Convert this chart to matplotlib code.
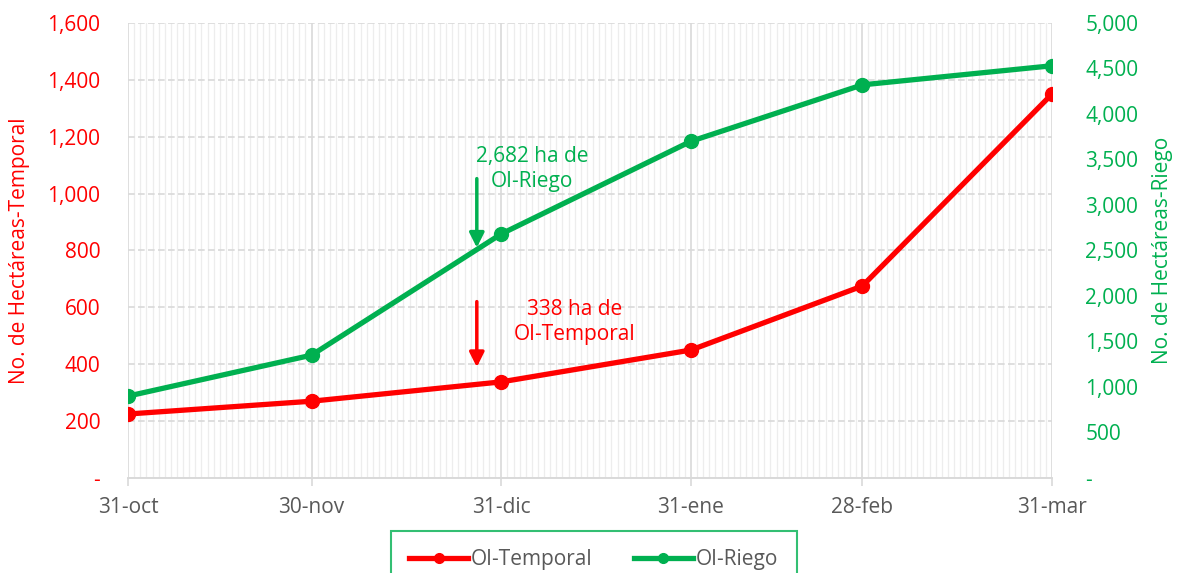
import numpy as np
import pandas as pd
import matplotlib
matplotlib.use('Agg')
import matplotlib.pyplot as plt
import matplotlib.dates as mdates
from matplotlib.ticker import FuncFormatter

# datos
fechas = pd.to_datetime(['2020-10-31', '2020-11-30', '2020-12-31',
                         '2021-01-31', '2021-02-28', '2021-03-31'])
etiquetas = ['31-oct', '30-nov', '31-dic', '31-ene', '28-feb', '31-mar']
temporal = [225, 270, 338, 450, 675, 1350]
riego = [900, 1350, 2682, 3700, 4320, 4530]

ROJO = '#FF0000'
VERDE = '#00B050'
GRIS = '#595959'

plt.rcParams['font.family'] = ['Open Sans', 'DejaVu Sans']


def miles(v, pos):
    if v == 0:
        return '-'
    return f'{v:,.0f}'


fig = plt.figure(figsize=(11.78, 5.73), dpi=100)
ax = fig.add_axes([0.1087, 0.1658, 0.7843, 0.7941])
ax2 = ax.twinx()

ax.plot(fechas, temporal, color=ROJO, lw=3.8, marker='o', ms=10, label='OI-Temporal', zorder=4)
ax2.plot(fechas, riego, color=VERDE, lw=3.8, marker='o', ms=10, label='OI-Riego', zorder=4)

ax.set_xlim(fechas[0], fechas[-1])
ax.set_ylim(0, 1600)
ax2.set_ylim(0, 5000)
ax.set_yticks(np.arange(0, 1601, 200))
ax2.set_yticks(np.arange(0, 5001, 500))
ax.yaxis.set_major_formatter(FuncFormatter(miles))
ax2.yaxis.set_major_formatter(FuncFormatter(miles))

ax.set_xticks(fechas)
ax.set_xticklabels(etiquetas)
ax.xaxis.set_minor_locator(mdates.DayLocator())

# rejilla
ax.grid(which='major', axis='y', color='#D9D9D9', linestyle='--', lw=1.2, dashes=(4, 2))
ax.grid(which='major', axis='x', color='#D9D9D9', lw=1.2)
ax.grid(which='minor', axis='x', color='#EDEDED', lw=0.9)
ax.set_axisbelow(True)

for a in (ax, ax2):
    for s in ('top', 'left', 'right'):
        a.spines[s].set_visible(False)
    a.spines['bottom'].set_color('#D9D9D9')
    a.spines['bottom'].set_linewidth(1.2)

ax.tick_params(axis='x', which='major', length=6, color='#D9D9D9', width=1.2,
               labelsize=15, labelcolor=GRIS, pad=8)
ax.tick_params(axis='x', which='minor', length=0)
ax.tick_params(axis='y', length=0, labelsize=15, labelcolor=ROJO, pad=20)
ax2.tick_params(axis='y', length=0, labelsize=15, labelcolor=VERDE, pad=24)
for t in ax.get_yticklabels():
    t.set_horizontalalignment('right')
for t in ax2.get_yticklabels():
    t.set_horizontalalignment('left')

ax.set_ylabel('No. de Hectáreas-Temporal', color=ROJO, fontsize=15, labelpad=12)
ax2.set_ylabel('No. de Hectáreas-Riego', color=VERDE, fontsize=15, labelpad=10)

# anotaciones
x_flecha = pd.Timestamp('2020-12-27')
ax2.annotate('', xy=(x_flecha, 2500), xytext=(x_flecha, 3320),
             arrowprops=dict(arrowstyle='-|>', color=VERDE, lw=2.5, mutation_scale=22))
ax2.text(pd.Timestamp('2021-01-05'), 3400, '2,682 ha de\nOI-Riego', color=VERDE,
         fontsize=15, ha='center', va='center', linespacing=1.25)
ax.annotate('', xy=(x_flecha, 380), xytext=(x_flecha, 630),
            arrowprops=dict(arrowstyle='-|>', color=ROJO, lw=2.5, mutation_scale=22))
ax.text(pd.Timestamp('2021-01-12'), 550, '338 ha de\nOI-Temporal', color=ROJO,
        fontsize=15, ha='center', va='center', linespacing=1.25)

h1, l1 = ax.get_legend_handles_labels()
h2, l2 = ax2.get_legend_handles_labels()
leg = fig.legend(h1 + h2, l1 + l2, loc='upper center', bbox_to_anchor=(0.504, 0.074),
                 ncol=2, fontsize=15, frameon=True, fancybox=False, handlelength=2.8,
                 handletextpad=0.15, columnspacing=2.0, borderpad=0.9, markerscale=0.7,
                 borderaxespad=0.0)
leg.get_frame().set_edgecolor(VERDE)
leg.get_frame().set_linewidth(1.5)
for t in leg.get_texts():
    t.set_color(GRIS)

fig.savefig('out.png', dpi=100)
